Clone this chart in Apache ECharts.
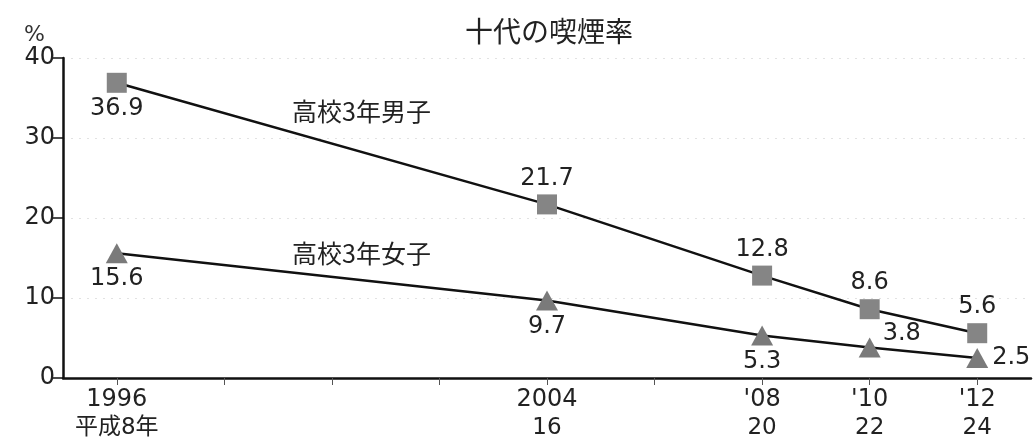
<!DOCTYPE html>
<html>
<head>
<meta charset="utf-8">
<script src="https://cdn.jsdelivr.net/npm/echarts@6/dist/echarts.min.js"></script>
<style>
	html, body { margin: 0; padding: 0; background: #fff; }
	#chart { width: 1036px; height: 444px; }
</style>
</head>
<body>
<div id="chart"></div>
<script>
// 年（横軸は実際の年の間隔）
var years = [1996, 2004, 2008, 2010, 2012];
var yearTicks = [1996, 1998, 2000, 2002, 2004, 2006, 2008, 2010, 2012];
var yearLabels = ['1996', '2004', "'08", "'10", "'12"];
var heiseiLabels = ['平成8年', '16', '20', '22', '24'];
// 喫煙率 %
var boys = [36.9, 21.7, 12.8, 8.6, 5.6];
var girls = [15.6, 9.7, 5.3, 3.8, 2.5];
var yTicks = [0, 10, 20, 30, 40];

window.onload = function() {
	var numFont = "'DejaVu Sans', 'Noto Sans CJK JP'";
	var jpFont = 'Noto Sans CJK JP';

	var boysPos = ['bottom', 'top', 'top', 'top', 'top'];		//ラベル位置
	var girlsPos = ['bottom', 'bottom', 'bottom', [24, -16], 'right'];

	function makeData(vals, pos) {
		var arr = [];
		for (var i = 0; i < vals.length; i++) {
			arr.push({
				value: [years[i], vals[i]],
				label: { position: pos[i] }
			});
		}
		return arr;
	}

	var labelStyle = {
		show: true,
		fontFamily: numFont,
		fontSize: 24,
		color: '#222',
		distance: 4
	};

	var option = {
		animation: false,
		backgroundColor: '#fff',
		title: {
			text: '十代の喫煙率',
			left: 460,
			top: 12,
			textStyle: { fontFamily: jpFont, fontSize: 28, fontWeight: 'normal', color: '#222' }
		},
		grid: { left: 63, right: 5, top: 58, bottom: 66 },
		xAxis: {
			type: 'value',
			min: 1995,
			max: 2013,
			axisLine: { lineStyle: { color: '#111', width: 2.5 } },
			axisTick: { show: true, customValues: yearTicks, length: 7, lineStyle: { color: '#555', width: 1 } },
			splitLine: { show: false },
			axisLabel: {
				customValues: years,
				margin: 8,
				formatter: function(v) {
					var i = years.indexOf(v);
					if (i < 0) return '';
					return '{a|' + yearLabels[i] + '}\n{b|' + heiseiLabels[i] + '}';
				},
				rich: {
					a: { fontFamily: numFont, fontSize: 24, color: '#222', lineHeight: 28 },
					b: { fontFamily: numFont, fontSize: 23, color: '#222', lineHeight: 28 }
				}
			}
		},
		yAxis: {
			type: 'value',
			min: yTicks[0],
			max: yTicks[yTicks.length - 1],
			interval: 10,
			name: '%',
			nameLocation: 'end',
			nameGap: 12,
			nameTextStyle: { fontFamily: numFont, fontSize: 22, color: '#333', align: 'right', padding: [0, 18, 0, 0] },
			axisLine: { show: true, lineStyle: { color: '#111', width: 2.5 } },
			axisTick: { show: true, inside: false, length: 10, lineStyle: { color: '#111', width: 1.5 } },
			axisLabel: { fontFamily: numFont, fontSize: 24, color: '#222', margin: 8 },
			splitLine: { show: true, lineStyle: { color: '#e2e2e2', type: [2, 6], width: 1 } }
		},
		graphic: [
			{ type: 'text', left: 292, top: 99, style: { text: '高校3年男子', fontFamily: jpFont, fontSize: 25, fill: '#222' } },
			{ type: 'text', left: 292, top: 241, style: { text: '高校3年女子', fontFamily: jpFont, fontSize: 25, fill: '#222' } }
		],
		series: [
			{
				name: '高校3年男子',
				type: 'line',
				data: makeData(boys, boysPos),
				symbol: 'rect',
				symbolSize: 20,
				lineStyle: { color: '#111', width: 2.5 },
				itemStyle: { color: '#858585', borderWidth: 0 },
				label: labelStyle,
				z: 3
			},
			{
				name: '高校3年女子',
				type: 'line',
				data: makeData(girls, girlsPos),
				symbol: 'triangle',
				symbolSize: [22, 20],
				lineStyle: { color: '#111', width: 2.5 },
				itemStyle: { color: '#7a7a7a', borderWidth: 0 },
				label: labelStyle,
				z: 3
			}
		]
	};

	var chart = echarts.init(document.getElementById('chart'));
	chart.setOption(option);
};
</script>
</body>
</html>
